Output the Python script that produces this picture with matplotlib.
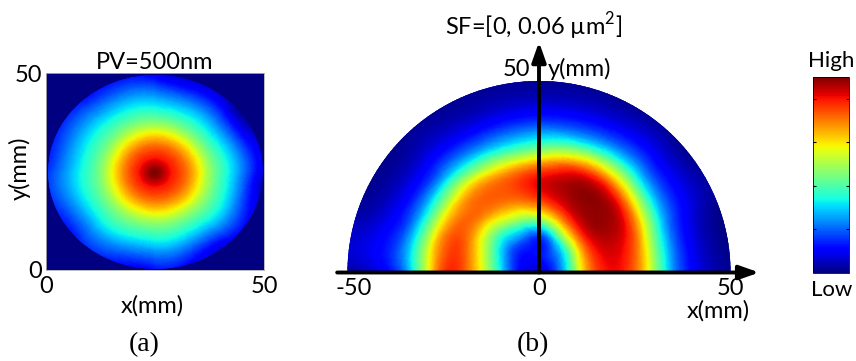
import numpy as np
import matplotlib
matplotlib.use("Agg")
import matplotlib.pyplot as plt
import matplotlib.tri as mtri
from matplotlib.patches import Circle, Wedge
from matplotlib.cm import ScalarMappable
from matplotlib.colors import Normalize

plt.rcParams["font.family"] = ["Lato", "DejaVu Sans"]
plt.rcParams["mathtext.fontset"] = "custom"
plt.rcParams["mathtext.rm"] = "Lato"
SERIF = ["Liberation Serif", "DejaVu Serif"]

# (a) measured surface, polar samples around the peak (mm), normalised height
a_center = (25.0, 24.7)
a_peak = 1.0
a_radii = [4, 8, 12, 16, 20, 24, 28]
a_angles = [0, 45, 90, 135, 180, 225, 270, 315]
a_values = [
    [0.88, 0.76, 0.56, 0.40, 0.25, 0.10, 0.04],
    [0.88, 0.75, 0.54, 0.37, 0.22, 0.07, 0.02],
    [0.88, 0.75, 0.55, 0.39, 0.26, 0.13, 0.06],
    [0.88, 0.74, 0.54, 0.40, 0.28, 0.17, 0.10],
    [0.88, 0.73, 0.53, 0.40, 0.29, 0.19, 0.12],
    [0.88, 0.74, 0.55, 0.41, 0.28, 0.17, 0.10],
    [0.88, 0.75, 0.56, 0.41, 0.27, 0.15, 0.08],
    [0.88, 0.76, 0.57, 0.41, 0.26, 0.12, 0.06],
]
a_aperture = (25.1, 24.9, 24.6)  # cx, cy, radius
a_ticks = [0, 50]

# (b) slope field on the half aperture, polar samples about the origin
b_center_value = 0.10
b_radii = [5, 10, 15, 20, 25, 30, 35, 40, 45, 50, 55]
b_angles = [0, 22.5, 45, 67.5, 90, 112.5, 135, 157.5, 180]
b_values = [
    [0.22, 0.58, 0.84, 0.90, 0.80, 0.55, 0.27, 0.12, 0.05, 0.02, 0.00],
    [0.22, 0.55, 0.86, 0.94, 0.88, 0.62, 0.31, 0.14, 0.06, 0.02, 0.00],
    [0.20, 0.48, 0.86, 0.98, 0.97, 0.76, 0.42, 0.19, 0.08, 0.02, 0.00],
    [0.17, 0.36, 0.76, 0.95, 0.97, 0.78, 0.42, 0.18, 0.07, 0.02, 0.00],
    [0.14, 0.22, 0.62, 0.87, 0.89, 0.64, 0.35, 0.16, 0.06, 0.02, 0.00],
    [0.13, 0.24, 0.55, 0.78, 0.81, 0.60, 0.31, 0.14, 0.05, 0.02, 0.00],
    [0.12, 0.24, 0.48, 0.74, 0.79, 0.60, 0.30, 0.13, 0.05, 0.02, 0.00],
    [0.12, 0.30, 0.56, 0.78, 0.81, 0.57, 0.27, 0.12, 0.05, 0.02, 0.00],
    [0.12, 0.36, 0.63, 0.83, 0.85, 0.55, 0.25, 0.11, 0.05, 0.02, 0.00],
]
b_aperture = 50
b_xticks = [-50, 0, 50]
b_ytick = 50

cbar_ticks = [2 / 9, 4 / 9, 6 / 9, 8 / 9]
cmap = plt.get_cmap("jet")


def polar_field(cx, cy, radii, angles, center_value, values, closed):
    nr, na = len(radii), len(angles)
    xs, ys, zs = [cx], [cy], [center_value]
    for j, th in enumerate(np.deg2rad(angles)):
        for i, r in enumerate(radii):
            xs.append(cx + r * np.cos(th))
            ys.append(cy + r * np.sin(th))
            zs.append(values[j][i])

    def idx(j, i):
        return 1 + j * nr + i

    tris = []
    for j in range(na if closed else na - 1):
        j2 = (j + 1) % na
        tris.append([0, idx(j, 0), idx(j2, 0)])
        for i in range(nr - 1):
            p, q, s, t = idx(j, i), idx(j2, i), idx(j2, i + 1), idx(j, i + 1)
            tris.append([p, q, s])
            tris.append([p, s, t])
    tri = mtri.Triangulation(xs, ys, tris)
    z = np.asarray(zs)
    interp = mtri.CubicTriInterpolator(tri, z, kind="min_E")
    return mtri.UniformTriRefiner(tri).refine_field(z, triinterpolator=interp, subdiv=4)


W, H = 856, 361
fig = plt.figure(figsize=(W / 100, H / 100), dpi=100)


def box(left, top, right, bottom):
    return [left / W, 1 - bottom / H, (right - left) / W, (bottom - top) / H]


# ---- (a)
ax_a = fig.add_axes(box(46, 73, 264, 270))
ax_a.set_facecolor(cmap(0.0))
tri_a, z_a = polar_field(a_center[0], a_center[1], a_radii, a_angles, a_peak, a_values, True)
img_a = ax_a.tripcolor(tri_a, z_a, shading="gouraud", cmap=cmap, vmin=0, vmax=1)
img_a.set_clip_path(Circle(a_aperture[:2], a_aperture[2], transform=ax_a.transData))
ax_a.set_xlim(0, 50)
ax_a.set_ylim(0, 50)
ax_a.set_xticks(a_ticks)
ax_a.set_yticks(a_ticks)
ax_a.tick_params(length=0, labelsize=17)
ax_a.tick_params(axis="x", pad=4)
ax_a.tick_params(axis="y", pad=3)
for sp in ax_a.spines.values():
    sp.set_color("#b0b0b0")
    sp.set_linewidth(0.6)
ax_a.set_title("PV=500nm", fontsize=17, pad=2)
fig.text(152 / W, 1 - 306 / H, "x(mm)", fontsize=17, ha="center", va="center")
fig.text(20 / W, 1 - 168 / H, "y(mm)", fontsize=17, ha="center", va="center", rotation=90)
fig.text(144 / W, 1 - 345 / H, "(a)", fontsize=20, ha="center", va="center", family=SERIF)

# ---- (b)
px = 3.83  # pixels per mm
ox, oy = 539, 272.5
left, right, top, bottom = 330, 760, 20, 300
ax_b = fig.add_axes(box(left, top, right, bottom))
ax_b.set_xlim((left - ox) / px, (right - ox) / px)
ax_b.set_ylim((oy - bottom) / px, (oy - top) / px)
ax_b.axis("off")
tri_b, z_b = polar_field(0, 0, b_radii, b_angles, b_center_value, b_values, False)
img_b = ax_b.tripcolor(tri_b, z_b, shading="gouraud", cmap=cmap, vmin=0, vmax=1)
img_b.set_clip_path(Wedge((0, 0), b_aperture, 0, 180, transform=ax_b.transData))

arrow = dict(arrowstyle="-|>,head_length=0.85,head_width=0.3", color="black",
             lw=2.8, mutation_scale=14, shrinkA=0, shrinkB=0)
ax_b.annotate("", xy=(57.5, 0), xytext=(-52.7, 0), arrowprops=arrow)
ax_b.annotate("", xy=(0, 60.2), xytext=(0, 0), arrowprops=arrow)
for xt in b_xticks:
    # the minus sign pushes the leftmost label a little past its tick
    ax_b.text(xt + 1.7 if xt < 0 else xt, -4.3, f"{xt}", fontsize=17, ha="center", va="center")
ax_b.text(46.7, -10.1, "x(mm)", fontsize=17, ha="center", va="center")
ax_b.text(-2.2, 53.1, f"{b_ytick}", fontsize=17, ha="right", va="center")
ax_b.text(2.2, 53.1, "y(mm)", fontsize=17, ha="left", va="center")
ax_b.text(-1.3, 64.3, "SF=[0, 0.06 \u00b5m$^2$]", fontsize=17, ha="center", va="center")
fig.text(533 / W, 1 - 345 / H, "(b)", fontsize=20, ha="center", va="center", family=SERIF)

# ---- colour bar
cax = fig.add_axes(box(813.3, 77.3, 849.3, 272.7))
cb = fig.colorbar(ScalarMappable(norm=Normalize(0, 1), cmap=cmap), cax=cax)
cb.set_ticks(cbar_ticks)
cax.tick_params(direction="in", length=2.5, width=0.8, left=True, right=True,
                labelleft=False, labelright=False)
cb.outline.set_linewidth(0.6)
cax.text(0.5, 1.083, "High", transform=cax.transAxes, fontsize=16, ha="center", va="center")
cax.text(0.5, -0.089, "Low", transform=cax.transAxes, fontsize=16, ha="center", va="center")

fig.savefig("out.png", dpi=100)
